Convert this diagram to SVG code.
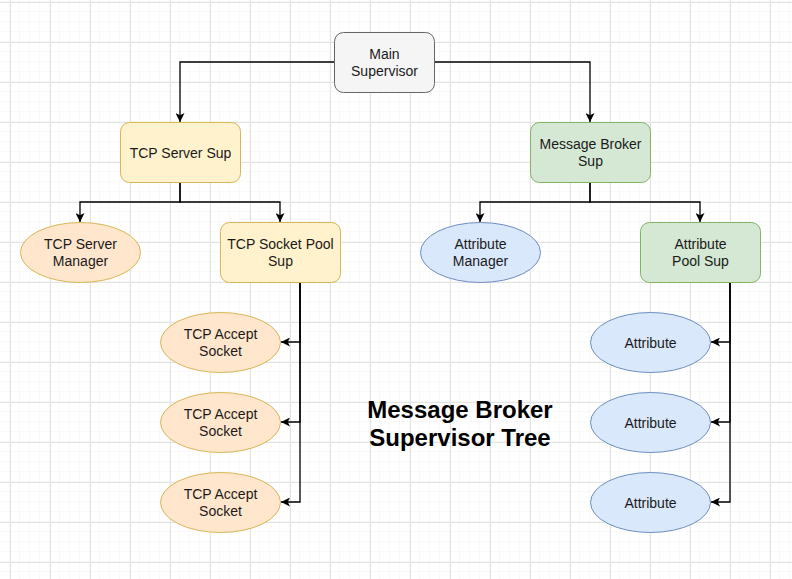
<svg xmlns="http://www.w3.org/2000/svg" width="792" height="579" viewBox="0 0 792 579">
<defs>
<pattern id="minor" x="0" y="2" width="10" height="10" patternUnits="userSpaceOnUse">
<path d="M10 0V10M0 10H10" fill="none" stroke="#f2f2f2" stroke-width="1"/>
</pattern>
<pattern id="major" x="10" y="2" width="40" height="40" patternUnits="userSpaceOnUse">
<path d="M0.5 0V40M0 0.5H40" fill="none" stroke="#e3e3e3" stroke-width="1"/>
</pattern>
<marker id="arr" viewBox="0 0 10 10" refX="10" refY="5" markerWidth="9" markerHeight="9" markerUnits="userSpaceOnUse" orient="auto">
<path d="M0 0L10 5L0 10L2.5 5Z" fill="#000"/>
</marker>
<style>
text{font-family:"Liberation Sans",Arial,sans-serif;font-size:14px;fill:#1a1a1a;text-anchor:middle}
.title{font-size:24px;font-weight:bold;fill:#000}
.gray{fill:#f5f5f5;stroke:#666666}
.yel{fill:#fff2cc;stroke:#d6b656}
.grn{fill:#d5e8d4;stroke:#82b366}
.blu{fill:#dae8fc;stroke:#6c8ebf}
.org{fill:#ffe6cc;stroke:#d6b656}
.edge{fill:none;stroke:#000;stroke-width:1.3;marker-end:url(#arr)}
</style>
</defs>
<rect width="792" height="579" fill="#fff"/>
<rect width="792" height="579" fill="url(#minor)"/>
<rect width="792" height="579" fill="url(#major)"/>

<g id="connectors">
<path class="edge" d="M334 62H180V122"/>
<path class="edge" d="M434 62H590V122"/>
<path class="edge" d="M180 182V202H80V222"/>
<path class="edge" d="M180 182V202H280V222"/>
<path class="edge" d="M590 182V202H480V222"/>
<path class="edge" d="M590 182V202H700V222"/>
<path class="edge" d="M300 282V342H281"/>
<path class="edge" d="M300 282V422H281"/>
<path class="edge" d="M300 282V502H281"/>
<path class="edge" d="M730 282V342H711"/>
<path class="edge" d="M730 282V422H711"/>
<path class="edge" d="M730 282V502H711"/>
</g>

<g id="main-supervisor">
<rect class="gray" x="334.5" y="32.5" width="100" height="60" rx="9"/>
<text x="384.5" y="59">Main</text>
<text x="384.5" y="76">Supervisor</text>
</g>
<g id="tcp-server-sup">
<rect class="yel" x="120.5" y="122.5" width="120" height="60" rx="9"/>
<text x="180.5" y="158">TCP Server Sup</text>
</g>
<g id="message-broker-sup">
<rect class="grn" x="530.5" y="122.5" width="120" height="60" rx="9"/>
<text x="590.5" y="149">Message Broker</text>
<text x="590.5" y="166">Sup</text>
</g>
<g id="tcp-server-manager">
<ellipse class="org" cx="80.5" cy="252.5" rx="60" ry="30"/>
<text x="80.5" y="249">TCP Server</text>
<text x="80.5" y="266">Manager</text>
</g>
<g id="tcp-socket-pool-sup">
<rect class="yel" x="220.5" y="222.5" width="120" height="60" rx="9"/>
<text x="280.5" y="249">TCP Socket Pool</text>
<text x="280.5" y="266">Sup</text>
</g>
<g id="attribute-manager">
<ellipse class="blu" cx="480.5" cy="252.5" rx="60" ry="30"/>
<text x="480.5" y="249">Attribute</text>
<text x="480.5" y="266">Manager</text>
</g>
<g id="attribute-pool-sup">
<rect class="grn" x="640.5" y="222.5" width="120" height="60" rx="9"/>
<text x="700.5" y="249">Attribute</text>
<text x="700.5" y="266">Pool Sup</text>
</g>
<g id="tcp-accept-socket-1">
<ellipse class="org" cx="220.5" cy="342.5" rx="60" ry="30"/>
<text x="220.5" y="339">TCP Accept</text>
<text x="220.5" y="356">Socket</text>
</g>
<g id="tcp-accept-socket-2">
<ellipse class="org" cx="220.5" cy="422.5" rx="60" ry="30"/>
<text x="220.5" y="419">TCP Accept</text>
<text x="220.5" y="436">Socket</text>
</g>
<g id="tcp-accept-socket-3">
<ellipse class="org" cx="220.5" cy="502.5" rx="60" ry="30"/>
<text x="220.5" y="499">TCP Accept</text>
<text x="220.5" y="516">Socket</text>
</g>
<g id="attribute-1">
<ellipse class="blu" cx="650.5" cy="342.5" rx="60" ry="30"/>
<text x="650.5" y="348">Attribute</text>
</g>
<g id="attribute-2">
<ellipse class="blu" cx="650.5" cy="422.5" rx="60" ry="30"/>
<text x="650.5" y="428">Attribute</text>
</g>
<g id="attribute-3">
<ellipse class="blu" cx="650.5" cy="502.5" rx="60" ry="30"/>
<text x="650.5" y="508">Attribute</text>
</g>
<g id="title">
<text class="title" x="460" y="418">Message Broker</text>
<text class="title" x="460" y="446">Supervisor Tree</text>
</g>
</svg>
